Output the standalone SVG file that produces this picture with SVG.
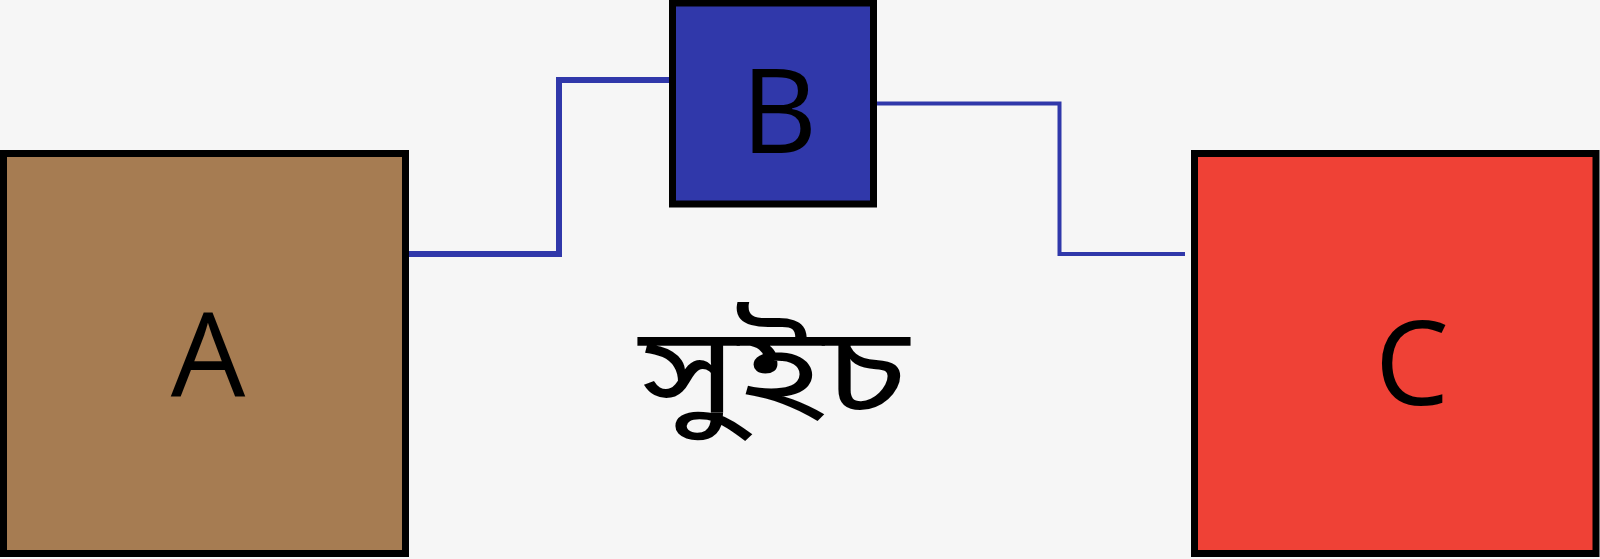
<svg xmlns="http://www.w3.org/2000/svg" width="1600" height="559" viewBox="0 0 1600 559">
<style>
.box{stroke:#000;stroke-width:7}
.lbl{font-family:"Open Sans","Noto Sans",sans-serif;font-size:118px;fill:#000;text-anchor:middle}
.wire{fill:none;stroke:#3038aa}
</style>
<rect width="1600" height="559" fill="#f6f6f6"/>
<g id="connectors">
<polyline class="wire" stroke-width="6" points="405,254 559,254 559,80 672,80"/>
<polyline class="wire" stroke-width="4" points="873,103.5 1059.5,103.5 1059.5,254 1185,254"/>
</g>
<g id="A">
<rect class="box" x="3.5" y="153.5" width="402" height="400" fill="#a67c52"/>
<text class="lbl" x="208" y="397">A</text>
</g>
<g id="B">
<rect class="box" x="672.5" y="3" width="201" height="201" fill="#3038aa"/>
<text class="lbl" x="779" y="153">B</text>
</g>
<g id="C">
<rect class="box" x="1194.5" y="153.5" width="401.5" height="400" fill="#ef4136"/>
<text class="lbl" x="1412" y="405">C</text>
</g>
<g id="label">
<text x="639" y="413" textLength="270" lengthAdjust="spacingAndGlyphs" style="font-family:'Noto Sans Bengali','Noto Sans',sans-serif;font-size:122px;fill:#000">সুইচ</text>
</g>
</svg>
